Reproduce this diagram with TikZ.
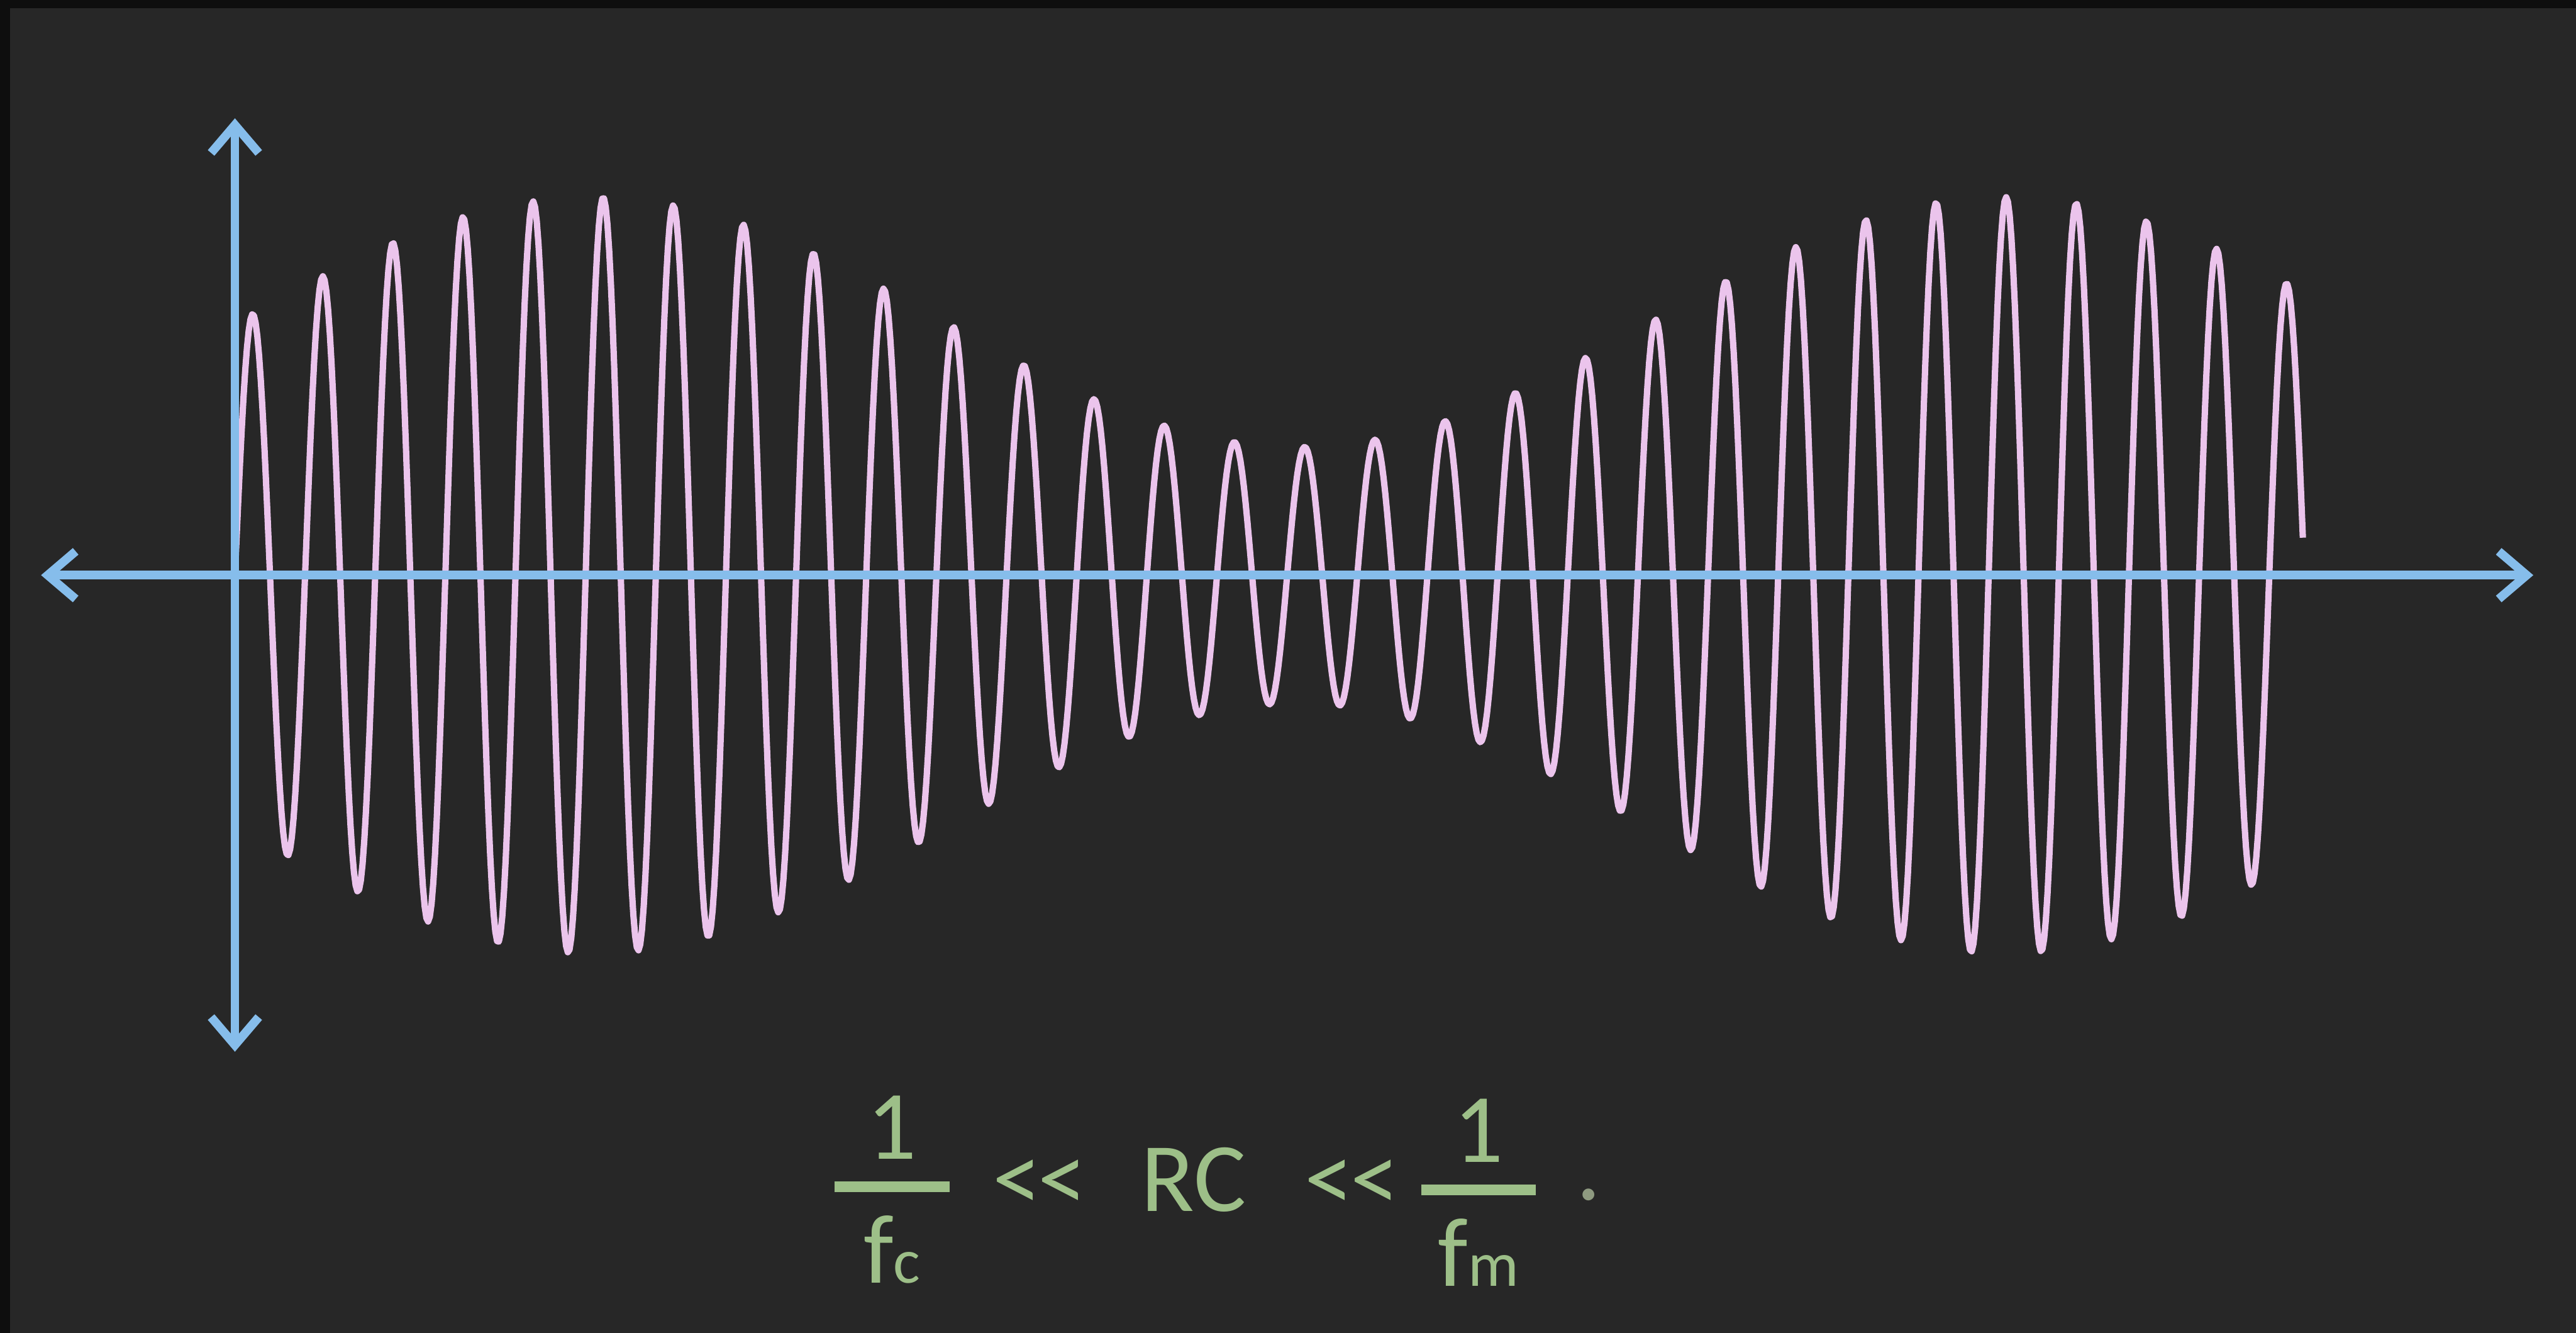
\documentclass[tikz,border=0pt]{standalone}
\usepackage{fontspec}
\setmainfont{Carlito}
\usepackage{xcolor}
\usepackage{tikz}
\usetikzlibrary{arrows.meta,positioning}
\definecolor{scopebg}{HTML}{272727}
\definecolor{scopeedge}{HTML}{0E0E0E}
\definecolor{axisblue}{HTML}{86BDEB}
\definecolor{wavepink}{HTML}{EBC4EC}
\definecolor{formulagreen}{HTML}{9DBF88}
\definecolor{dotgray}{HTML}{8E9A80}
\newcommand{\subsz}[1]{{\fontsize{11}{12}\selectfont #1}}

\begin{document}
\begin{tikzpicture}[
  axisline/.style={axisblue, line width=1.5pt, {Straight Barb[length=1.7mm, width=2.9mm]}-{Straight Barb[length=1.7mm, width=2.9mm]}},
  wave/.style={wavepink, line width=1.1pt, line join=round},
  formula/.style={text=formulagreen, font=\fontsize{17}{20}\selectfont, inner sep=0pt},
  fracbar/.style={fill=formulagreen, minimum width=0.7cm, minimum height=0.065cm, inner sep=0pt},
  declare function={env(\x)=1.54+0.76*cos(360*(\x-2.17)/8.6);}
]
  % Background
  \useasboundingbox (-1.43,-4.61) rectangle (14.25,3.50);
  \fill[scopebg] (-1.43,-4.61) rectangle (14.25,3.50);
  \fill[scopeedge] (-1.43,3.45) rectangle (14.25,3.50);
  \fill[scopeedge] (-1.43,-4.61) rectangle (-1.37,3.50);

  % Modulated carrier
  \draw[wave] plot[domain=0:12.588, samples=1200] (\x,{env(\x)*sin(360*\x/0.427)});

  % Axes
  \coordinate (origin) at (0,0);
  \coordinate (xleft) at (-1.18,0);
  \coordinate (xright) at (13.99,0);
  \coordinate (ytop) at (0,2.78);
  \coordinate (ybottom) at (0,-2.90);
  \draw[axisline] (ybottom) -- (ytop);
  \draw[axisline] (xleft) -- (xright);

  % Condition on RC
  \node[fracbar] (barc) at (4.00,-3.72) {};
  \node[formula, above=0.12cm of barc] (numc) {1};
  \node[formula, below=0.13cm of barc] (denc) {f\subsz{c}};
  \node[formula, anchor=base] (llc) at (4.90,-3.87) {{<}\kern-0.6pt{<}};
  \node[formula, anchor=base] (rc) at (5.835,-3.87) {RC};
  \node[formula, anchor=base] (llm) at (6.80,-3.87) {{<}\kern-0.6pt{<}};
  \node[fracbar] (barm) at (7.57,-3.74) {};
  \node[formula, above=0.12cm of barm] (numm) {1};
  \node[formula, below=0.13cm of barm] (denm) {f\subsz{m}};
  \node[formula, text=dotgray] (enddot) at (8.24,-3.77) {.};
\end{tikzpicture}
\end{document}
